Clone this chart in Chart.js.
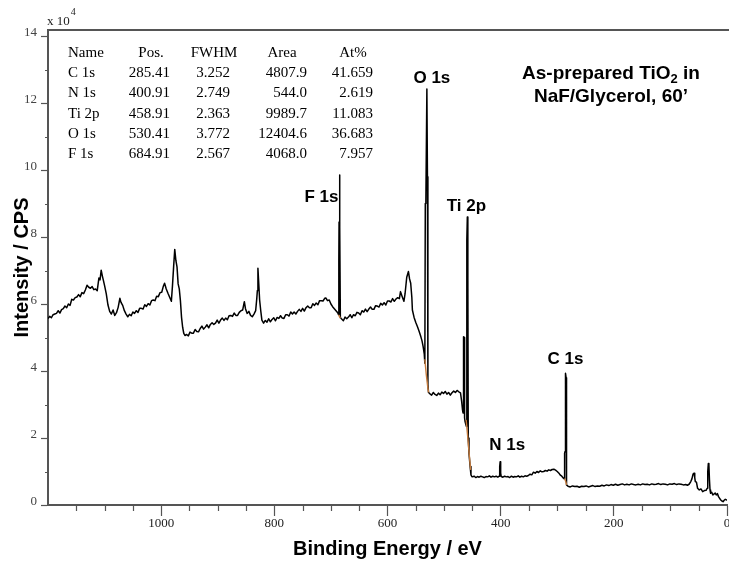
<!DOCTYPE html>
<html>
<head>
<meta charset="utf-8">
<title>XPS survey - TiO2 in NaF/Glycerol</title>
<script src="https://cdn.jsdelivr.net/npm/chart.js@4.4.1/dist/chart.umd.min.js"></script>
<style>
  html, body { margin: 0; padding: 0; background: #fff; }
  canvas { display: block; }
</style>
</head>
<body>
<canvas id="survey" width="729" height="566"></canvas>
<script>
// survey scan: [binding energy (eV), intensity (x 10^4 CPS)]
const spectrum = [
  [1200, 5.57], [1197, 5.63], [1194, 5.59], [1191, 5.68], [1188, 5.70], [1185, 5.72], [1182, 5.80], [1179, 5.73],
  [1176, 5.83], [1173, 5.86], [1170, 5.94], [1167, 5.89], [1164, 6.00], [1161, 5.96], [1158, 6.14], [1155, 6.12],
  [1152, 6.19], [1149, 6.21], [1146, 6.28], [1143, 6.22], [1140, 6.34], [1137, 6.31], [1134, 6.42], [1131, 6.56],
  [1128, 6.50], [1125, 6.47], [1122, 6.52], [1119, 6.43], [1116, 6.45], [1113, 6.40], [1110, 6.78], [1108, 6.72],
  [1106, 7.01], [1104, 6.84], [1102, 6.70], [1100, 6.55], [1097, 6.30], [1094, 5.97], [1091, 5.78], [1088, 5.70],
  [1085, 5.82], [1082, 5.66], [1079, 5.74], [1076, 5.90], [1073, 6.17], [1071, 6.05], [1068, 5.96], [1065, 5.80],
  [1062, 5.70], [1059, 5.62], [1056, 5.69], [1053, 5.65], [1050, 5.76], [1047, 5.72], [1044, 5.80], [1041, 5.75],
  [1038, 5.87], [1035, 5.87], [1032, 5.85], [1029, 5.98], [1026, 5.93], [1023, 6.01], [1020, 5.97], [1017, 6.10],
  [1014, 6.12], [1011, 6.10], [1008, 6.23], [1005, 6.22], [1002, 6.34], [999, 6.35], [996, 6.54], [994, 6.62],
  [991, 6.45], [988, 6.32], [985, 6.20], [982, 6.08], [980, 6.55], [978, 7.11], [976, 7.63], [974, 7.30],
  [972, 7.11], [970, 6.60], [968, 6.45], [966, 6.10], [964, 5.60], [962, 5.30], [960, 5.12], [958, 5.06],
  [955, 5.09], [952, 5.05], [949, 5.16], [946, 5.13], [943, 5.13], [940, 5.24], [937, 5.18], [934, 5.17],
  [931, 5.27], [928, 5.34], [925, 5.25], [922, 5.31], [919, 5.38], [916, 5.29], [913, 5.39], [910, 5.44],
  [907, 5.39], [904, 5.43], [901, 5.52], [898, 5.43], [895, 5.52], [892, 5.58], [889, 5.51], [886, 5.58],
  [883, 5.53], [880, 5.65], [877, 5.66], [874, 5.63], [871, 5.73], [868, 5.66], [865, 5.66], [862, 5.75],
  [859, 5.80], [856, 5.82], [853, 6.07], [851, 5.86], [848, 5.72], [845, 5.78], [842, 5.66], [839, 5.62],
  [836, 5.70], [833, 5.80], [831, 6.17], [830, 6.40], [829, 7.07], [827.5, 6.60], [826, 6.12], [824, 5.80],
  [822, 5.52], [819, 5.43], [816, 5.51], [813, 5.46], [810, 5.56], [807, 5.47], [804, 5.54], [801, 5.59],
  [798, 5.50], [795, 5.60], [792, 5.57], [789, 5.65], [786, 5.58], [783, 5.57], [780, 5.68], [777, 5.68],
  [774, 5.64], [771, 5.76], [768, 5.70], [765, 5.76], [762, 5.70], [759, 5.78], [756, 5.84], [753, 5.78],
  [750, 5.87], [747, 5.79], [744, 5.89], [741, 5.94], [738, 5.89], [735, 5.89], [732, 6.01], [729, 5.96],
  [726, 6.03], [723, 5.98], [720, 6.10], [717, 6.10], [714, 6.09], [711, 6.17], [709, 6.18], [706, 6.10],
  [703, 6.12], [700, 6.00], [697, 5.92], [694, 5.86], [691, 5.80], [688, 5.74], [686.5, 5.68],
  // F 1s
  [686.0, 7.30], [685.6, 8.45], [684.91, 9.85], [684.0, 8.30], [683.3, 5.60],
  [681, 5.55], [678, 5.50], [675, 5.61], [672, 5.56], [669, 5.61], [666, 5.68], [663, 5.59], [660, 5.68],
  [657, 5.65], [654, 5.75], [651, 5.73], [648, 5.68], [645, 5.80], [642, 5.76], [639, 5.85], [636, 5.77],
  [633, 5.85], [630, 5.91], [627, 5.84], [624, 5.84], [621, 5.95], [618, 5.94], [615, 5.91], [612, 6.02],
  [609, 5.97], [606, 6.04], [603, 5.97], [600, 6.09], [597, 6.09], [594, 6.06], [591, 6.16], [588, 6.08],
  [585, 6.15], [582, 6.19], [579, 6.16], [577, 6.37], [574, 6.22], [571, 6.08], [569, 6.30], [566, 6.80],
  [563, 6.97], [561, 6.75], [559, 6.62], [557, 6.20], [556, 5.82], [553, 5.60], [550, 5.45], [547, 5.32],
  [544, 5.18], [541, 5.02], [539, 4.90], [537, 4.73], [535, 4.50], [534, 4.23],
  // O 1s
  [533.2, 9.00], [532.2, 9.05], [530.41, 12.42], [529.4, 9.80], [528.6, 3.60], [527.5, 3.36],
  [525, 3.32], [522, 3.28], [519, 3.36], [516, 3.30], [513, 3.27], [510, 3.34], [507, 3.29], [504, 3.37],
  [501, 3.33], [498, 3.39], [495, 3.31], [492, 3.36], [489, 3.28], [486, 3.35], [483, 3.40], [480, 3.36],
  [477, 3.42], [474, 3.38], [471, 3.35], [469, 3.10], [467.5, 2.85], [466.5, 2.75],
  // Ti 2p
  [465.6, 5.02], [464.6, 5.00], [463.8, 2.60], [463, 2.50], [461.5, 2.40], [460.6, 2.35],
  [459.8, 7.90], [458.91, 8.60], [458.0, 6.80], [457.3, 2.00], [456, 1.55], [454, 1.15], [452.5, 0.90],
  [451, 0.85], [450, 0.84], [447, 0.86], [444, 0.82], [441, 0.85], [438, 0.83], [435, 0.86], [432, 0.84],
  [429, 0.82], [426, 0.85], [423, 0.84], [420, 0.87], [417, 0.83], [414, 0.86], [411, 0.84], [408, 0.86],
  [405, 0.83], [402.5, 0.86],
  // N 1s
  [401.7, 1.15], [400.91, 1.29], [400.0, 0.95], [399, 0.85],
  [396, 0.83], [393, 0.86], [390, 0.84], [387, 0.85], [384, 0.82], [381, 0.86], [378, 0.83], [375, 0.85],
  [372, 0.84], [369, 0.87], [366, 0.83], [363, 0.86], [360, 0.84], [357, 0.87], [354, 0.86], [351, 0.88],
  [348, 0.92], [345, 0.90], [342, 0.98], [339, 0.95], [336, 1.00], [333, 0.97], [330, 1.02], [327, 0.99],
  [324, 1.00], [321, 1.03], [318, 1.01], [315, 1.05], [312, 1.03], [309, 1.06], [306, 1.07], [303, 1.04],
  [300, 1.00], [297, 0.95], [295, 0.90], [292, 0.86], [289, 0.80], [287.5, 0.78],
  // C 1s
  [287.0, 1.55], [286.2, 1.60], [285.41, 3.93], [284.4, 3.80], [283.6, 0.60],
  [281, 0.56], [277, 0.54], [273, 0.57], [269, 0.55], [265, 0.56], [261, 0.53], [257, 0.56], [253, 0.55],
  [249, 0.57], [245, 0.54], [241, 0.56], [237, 0.58], [233, 0.55], [229, 0.57], [225, 0.56], [221, 0.59],
  [217, 0.57], [213, 0.60], [209, 0.58], [205, 0.61], [201, 0.59], [197, 0.62], [193, 0.59], [189, 0.61],
  [185, 0.63], [181, 0.60], [177, 0.62], [173, 0.60], [169, 0.63], [165, 0.61], [161, 0.60], [157, 0.62],
  [153, 0.60], [149, 0.63], [145, 0.61], [141, 0.62], [137, 0.60], [133, 0.63], [129, 0.61], [125, 0.62],
  [121, 0.64], [117, 0.61], [113, 0.63], [109, 0.62], [105, 0.60], [101, 0.63], [97, 0.62], [93, 0.64],
  [89, 0.61], [85, 0.63], [81, 0.62], [77, 0.60], [73, 0.61], [70, 0.59], [67, 0.62], [64, 0.70],
  [62, 0.78], [60, 0.92], [58, 0.95], [57, 0.82], [56, 0.70], [54, 0.68], [52, 0.50], [49, 0.45],
  [46, 0.48], [43, 0.40], [40, 0.43], [37, 0.44], [35, 0.50], [34, 1.00], [33, 1.24], [32, 1.20],
  [31, 0.75], [30, 0.45], [29, 0.35], [27, 0.38], [25, 0.30], [23, 0.33], [21, 0.36], [19, 0.30],
  [17, 0.34], [15, 0.25], [13, 0.20], [11, 0.15], [9, 0.12], [7, 0.10], [5, 0.14], [3, 0.17],
  [1, 0.15], [0, 0.14]
];

// fitted background under each peak
const bgF1s = [[686.5, 5.68], [685, 5.63], [683.5, 5.58]];
const bgO1s = [[534, 4.35], [531.5, 3.90], [529, 3.55], [527.5, 3.36]];
const bgTi2p = [[461, 2.54], [458, 2.00], [455.5, 1.50], [453, 1.05]];
const bgC1s = [[287, 0.79], [285, 0.70], [283.5, 0.60]];

// quantification table
const peakNames = ["C 1s", "N 1s", "Ti 2p", "O 1s", "F 1s"];
const peakPos = [285.41, 400.91, 458.91, 530.41, 684.91];
const peakFwhm = [3.252, 2.749, 2.363, 3.772, 2.567];
const peakArea = [4807.9, 544.0, 9989.7, 12404.6, 4068.0];
const peakAtPct = [41.659, 2.619, 11.083, 36.683, 7.957];

const xTicks = [1000, 800, 600, 400, 200, 0];
const yTicks = [0, 2, 4, 6, 8, 10, 12, 14];

const serif = "'Liberation Serif', 'Times New Roman', serif";
const sans = "'Liberation Sans', Arial, sans-serif";
const axisColor = "#555";

const toXY = arr => arr.map(p => ({ x: p[0], y: p[1] }));

// label offsets from each peak top, px
const labelOffset = {
  "O 1s": [5, -11],
  "F 1s": [-18, 22],
  "Ti 2p": [-1, -11],
  "N 1s": [7, -16],
  "C 1s": [0, -14]
};

function peakTop(pos) {
  let best = 0;
  spectrum.forEach(p => {
    if (Math.abs(p[0] - pos) < 2 && p[1] > best) best = p[1];
  });
  return best;
}

const decor = {
  id: "decor",
  afterDraw(chart) {
    const { ctx, chartArea: a } = chart;
    const x = chart.scales.x;
    const y = chart.scales.y;
    ctx.save();

    // top edge of the frame
    ctx.strokeStyle = axisColor;
    ctx.lineWidth = 2;
    ctx.beginPath();
    ctx.moveTo(a.left - 1, a.top);
    ctx.lineTo(chart.width, a.top);
    ctx.stroke();

    // minor ticks
    ctx.lineWidth = 1.2;
    ctx.beginPath();
    for (let v = 50; v < 1200; v += 50) {
      if (v % 200 === 0) continue;
      const px = Math.round(x.getPixelForValue(v)) + 0.5;
      ctx.moveTo(px, a.bottom);
      ctx.lineTo(px, a.bottom + 6);
    }
    for (let v = 1; v < 14; v += 2) {
      const py = Math.round(y.getPixelForValue(v)) + 0.5;
      ctx.moveTo(a.left - 3, py);
      ctx.lineTo(a.left, py);
    }
    ctx.stroke();

    // exponent above the y axis
    ctx.fillStyle = "#222";
    ctx.textAlign = "left";
    ctx.textBaseline = "alphabetic";
    ctx.font = "13px " + serif;
    ctx.fillText("x 10", a.left - 1, a.top - 5);
    const w10 = ctx.measureText("x 10").width;
    ctx.font = "10px " + serif;
    ctx.fillText("4", a.left - 1 + w10 + 1, a.top - 15);

    // quantification table
    ctx.fillStyle = "#000";
    ctx.font = "15px " + serif;
    ctx.textBaseline = "middle";
    const row0 = a.top + 23;
    const rowH = 20.2;
    ctx.textAlign = "left";
    ctx.fillText("Name", 68, row0);
    ctx.textAlign = "center";
    ctx.fillText("Pos.", 151, row0);
    ctx.fillText("FWHM", 214, row0);
    ctx.fillText("Area", 282, row0);
    ctx.fillText("At%", 353, row0);
    peakNames.forEach((name, i) => {
      const ry = row0 + (i + 1) * rowH;
      ctx.textAlign = "left";
      ctx.fillText(name, 68, ry);
      ctx.textAlign = "right";
      ctx.fillText(peakPos[i].toFixed(2), 170, ry);
      ctx.textAlign = "center";
      ctx.fillText(peakFwhm[i].toFixed(3), 213, ry);
      ctx.textAlign = "right";
      ctx.fillText(peakArea[i].toFixed(1), 307, ry);
      ctx.fillText(peakAtPct[i].toFixed(3), 373, ry);
    });

    // peak labels
    ctx.font = "bold 17px " + sans;
    ctx.textAlign = "center";
    ctx.textBaseline = "middle";
    peakNames.forEach((name, i) => {
      const off = labelOffset[name];
      const px = x.getPixelForValue(peakPos[i]);
      const py = y.getPixelForValue(peakTop(peakPos[i]));
      ctx.fillText(name, px + off[0], py + off[1]);
    });

    // sample description, TiO2 with subscript
    const cx = 611;
    ctx.textBaseline = "alphabetic";
    ctx.textAlign = "left";
    const big = "bold 19px " + sans;
    const small = "bold 13px " + sans;
    ctx.font = big;
    const partA = "As-prepared TiO";
    const partB = " in";
    const wA = ctx.measureText(partA).width;
    const wB = ctx.measureText(partB).width;
    ctx.font = small;
    const wSub = ctx.measureText("2").width;
    const sx = cx - (wA + wSub + wB) / 2;
    ctx.font = big;
    ctx.fillText(partA, sx, 79);
    ctx.font = small;
    ctx.fillText("2", sx + wA, 83);
    ctx.font = big;
    ctx.fillText(partB, sx + wA + wSub, 79);
    ctx.textAlign = "center";
    ctx.fillText("NaF/Glycerol, 60\u2019", cx, 102);

    ctx.restore();
  }
};

new Chart(document.getElementById("survey"), {
  type: "scatter",
  data: {
    datasets: [
      ...[bgF1s, bgO1s, bgTi2p, bgC1s].map(seg => ({
        data: toXY(seg),
        showLine: true,
        borderColor: "#c47a3c",
        borderWidth: 1.4,
        pointRadius: 0
      })),
      {
        data: toXY(spectrum),
        showLine: true,
        borderColor: "#000",
        borderWidth: 1.5,
        borderJoinStyle: "round",
        pointRadius: 0,
        tension: 0
      }
    ]
  },
  options: {
    responsive: false,
    animation: false,
    events: [],
    layout: {
      padding: { top: 30, right: 2, left: 0, bottom: 0 }
    },
    plugins: {
      legend: { display: false },
      tooltip: { enabled: false }
    },
    scales: {
      x: {
        type: "linear",
        reverse: true,
        min: 0,
        max: 1200,
        afterBuildTicks: s => { s.ticks = xTicks.map(v => ({ value: v })); },
        afterFit: s => { s.height = 61; s.paddingLeft = 0; s.paddingRight = 0; },
        grid: { drawOnChartArea: false, tickLength: 11, tickColor: axisColor, tickWidth: 1.2 },
        border: { color: axisColor, width: 2 },
        ticks: {
          autoSkip: false,
          maxRotation: 0,
          padding: 0,
          color: "#222",
          font: { family: serif, size: 13 },
          callback: v => String(v)
        },
        title: {
          display: true,
          text: "Binding Energy / eV",
          color: "#000",
          font: { family: sans, size: 20, weight: "bold" },
          padding: { top: 0, bottom: 5 }
        }
      },
      y: {
        min: 0,
        max: 14.18,
        afterBuildTicks: s => { s.ticks = yTicks.map(v => ({ value: v })); },
        afterFit: s => { s.width = 48; s.paddingTop = 0; s.paddingBottom = 0; },
        grid: { drawOnChartArea: false, tickLength: 7, tickColor: axisColor, tickWidth: 1.2 },
        border: { color: axisColor, width: 2 },
        ticks: {
          autoSkip: false,
          padding: 4,
          labelOffset: -3,
          color: "#444",
          font: { family: serif, size: 13 }
        },
        title: {
          display: true,
          text: "Intensity / CPS",
          color: "#000",
          font: { family: sans, size: 20, weight: "bold" },
          padding: { top: 10, bottom: 0 }
        }
      }
    }
  },
  plugins: [decor]
});
</script>
</body>
</html>
